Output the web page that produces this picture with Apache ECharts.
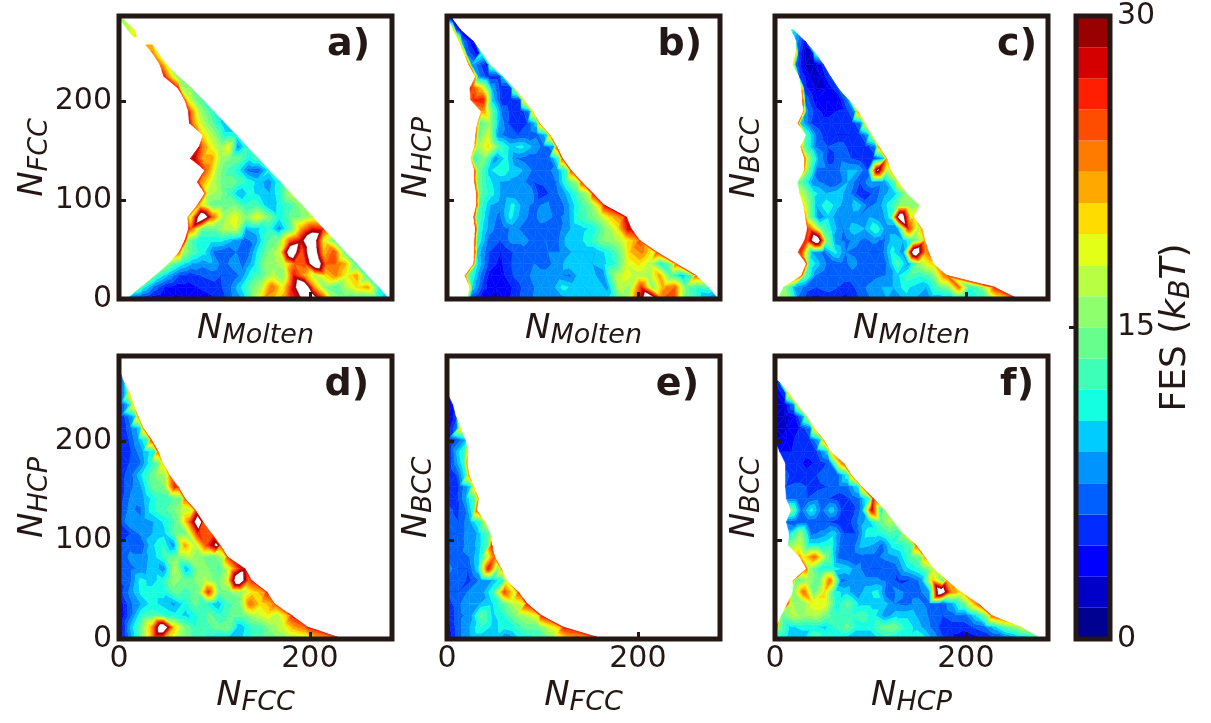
<!DOCTYPE html>
<html><head><meta charset="utf-8">
<style>html,body{margin:0;padding:0;background:#fff}#c{width:1211px;height:723px}</style>
<script src="https://cdn.jsdelivr.net/npm/echarts@6/dist/echarts.min.js"></script></head>
<body><div id="c"></div>
<script>
const _ = null, H = 37; // H: beyond the 30 colour limit, so it leaves an unfilled hole with a hot rim
const axisMax = 286, rowStep = 284 / 24, rimWidth = 3;
const levels = [0,1.5,3,4.5,6,7.5,9,10.5,12,13.5,15,16.5,18,19.5,21,22.5,24,25.5,27,28.5,30];
const levelColors = ['#000091','#0000c8','#0000ff','#002cff','#0060ff','#0094ff','#00ccff','#14ffe2','#3dffb8','#66ff8e','#8eff6d','#b8ff43','#e3ff17','#ffdc00','#ffa800','#ff7b00','#ff4d00','#ff1e00','#d40000','#990000'];
// each row: [row index, left end of sampled range, right end, FES on left rim, FES on right rim, FES values...]
const panelA = [
[24,0,3,_,_,15,16],[23,9,16,_,_,17,19],[22.4,15,18.5,_,_,19,20],[22,20,28,_,_,_,_],[21.7,28,35,_,_,21,21],[21,35,41,_,_,23,18],
[20,43,50,_,_,24,19],[19,47,62,27,_,24,19,15],[18,62,76,26,_,17,15],[17,69,88,24,_,19,15,13],[16,73,99.5,27,_,23,17,14,12],
[15,74,111,27,_,23,18,15,12,9],[14,88,123,_,_,20,16,11,11],[13,84,134,27,_,24,19,16,19,8,12],[12,75,146,27,_,29,22,22,16,15,14,11,13],
[11,90,157,25,_,23,16,13,11,7,6.5,11],[10,82,169,27,_,23,18,14,14,12,10,8,12],[9,90,180,24,_,17,16,13,9,11,10,9,12,17],
[8,82,192,24,_,20,14,14,15,12,13,9,11,13,16],[7,72,203,22,_,18,H,24,16,19,15,19,15,11,14,15,17],
[6,73,214,26,_,24,14,14,17,18,9,10,12,8,13,22,27,26],[5,69,226,27,_,15,11,11,11,9,7,8,13,15,24,28,H,19,14],
[4,63,237,24,_,17,13,11,7,6,7.5,6.5,11,15,18,H,24,H,21,25,14],[3,52,249,16,_,14,11,9,8,9,6.5,8.5,7,10,15,16,18,24,25,H,24,24,21,13],
[2,38,260,14,_,12,9,6,5,6,6.5,6,6,8,12,14,17,15,27,22,17,20,23,19,22,13],
[1,23,272,14,_,11,7,4.5,3.8,4,4.5,5,5.5,7,10,14,17,24,19,28,H,22,15,13,17,20,22,12],
[0,8,283,10,_,6,5,3.5,3,2.5,2.8,3.5,4,5,7,9,16,22,20,24,28,H,27,17,14,13,12,11,9]];
const panelB = [
[24,1.4,5,_,_,3,2],[23,6.6,14,20,_,6,2.5],[22,13,27.5,20,_,8,3],[21,18,36,20,12,7,3.5],[20,23,45,24,14,9,4],[19,30,58,22,10,8,5,5],
[18,24,70,26,16,25,20,9,5,5],[17,25,80,24,20,26,27,10,5,5,6],[16,36,90,22,20,22,13,7,5.5,5,8],[15,32,97,22,22,13,16,9,6,5,6,10],
[14,30,108,24,22,14,18,8,6.5,6,6,7,10],[13,29,115,22,24,16,20,13,10,11,9,7,8],[12,25,121,20,25,12,15,8,11,7.5,6.5,6.5,6.5,13],
[11,29,130,24,25,15,10,12,10,9,7,7,8,14],[10,29,141,24,25,15,11,9,8.5,8,6,6.5,7.5,13,17],[9,31,153,25,26,14,11,8,7.5,9,5,6.5,9,13,18],
[8,31,165,25,27,13,9,8,11,8,7,8,6,8.5,12,15,22],[7,28,188,25,28,14,9,7,11,8,7,8.5,7,8,12,14,17,21,24],
[6,30,193,26,28,12,8,6.5,8,7,6.5,6,7,9,10,11,15,19,28],[5,29,202,25,25,12,7,6,8,8,7,7.5,7,10,10,12,15,16,19,22],
[4,29,220,25,25,10,6,4.5,6,7,7,7.5,7.5,9,9,9,11,14,21,23,18],[3,28,240,23,24,11,6,4,6,7,7.5,7,8,10,10.5,9,10,12,18,20,17,11,17],
[2,19,261,23,24,14,8,3.5,4,6,7,8,8,8,7,10,9.5,8,16,19,17,16,22,13,9,15],
[1,24,274,20,_,10,5,3,3.5,5.5,7,8,8,11,10,9,10,8.5,17,16,26,15,22,24,14,12,13],
[0,22,284,14,_,6,3,2.5,3.5,5.5,7,8,9,8,9,9.5,9,10,13,16,27,H,24,26,15,12,8,6]];
const panelC = [
[23,17,19,_,_,11,11],[22,23,31.5,_,_,8,4],[21,22,42,20,12,6,1.5,2.5],[20,19,51,20,_,7,2,2.5,5],[19,26,58,_,_,6,3,3,6],[18,28,66,22,_,5,2.8,3,6],
[17,29,77,25,_,7,3.5,3,3,8],[16,30,87,23,22,8,5,4,4.5,5,8],[15,24,94,24,18,10,6,5,5,5,5,8],[14,33,101,_,16,13,7,5,4.5,4.5,5,9],
[13,27,109,22,22,14,7.5,6,7,5,4.5,8],[12,31,117,24,22,17,9,5,7,6,5,4.5,9],[11,31,121,22,20,15,7,7,7,9,9,6,32,16],
[10,24,129,14,20,14,8,7,6,9,6,9,8,14],[9,26,138,18,_,17,11,9,10,8,4.5,6,8.5,10,16],[8,30,151,20,_,17,9,12,9.5,8,10,7,8,11,15,15,16],
[7,32,145,22,20,16,7.5,10,7.5,8,7.5,9,7.5,11,H,19],[6,34,154,26,22,24,14,10,7.5,10,9,12,8,8,26,16],[5,31,157,27,22,25,H,15,8,7,8,7,8,7,10,9,13,17],
[4,24,161,25,24,26,9,7,11,7.5,7,6,6,11,8,H,22],[3,33,166,24,20,12,9,6,7,8,6.5,7,7.5,13,8.5,16,20],[2,28,180,24,24,14,7.5,6,7,7,6,7,7.5,10,13,12,14,23],
[1,9,230,_,26,16,9,7,6,7,6,5,7,8,9,9,11,10,9,13,15,24,12,14,22],
[0,3,255,_,_,16,15,7,4,4,4.5,4,5,7,8,9,8,10,8.5,9,9,9,10,11,12,18,20,26]];
const panelD = [
[22.6,0,2,_,_,5,5],[22,0,4.5,_,_,3.5,8],[21,0,11,_,20,4,11],[20,0,15,_,20,4,11],[19,0,20,_,22,4,10],[18,0,25.5,_,22,4,7,10],[17,0,34,_,25,4.5,6,9,13],
[16,0,41,_,24,5,6,9,12],[15,0,46,_,20,5,6,7,11,15],[14,0,53,_,22,5,7,11,15,17],[13,0,62,_,25,5,7,9,14,15,27],[12,0,69,_,24,5,8,9,12,13,15],
[11,0,80,_,24,5,8,7,11,13,14,17,18],[10,0,88,_,25,6,9,8,9,11,14,23,H],[9,0,97,_,24,5,6,8,9,10,14,15,26,24],[8,0,106,_,24,6,7,6,10,12,8,22,17,25,32],
[7,0,114,_,25,6,8,8,10,13,15,17,15,14,18],[6,0,132,_,28,6,7,8,10,8,17,9,15,15,13,20,28],[5,0,139,_,26,6,7,11,10,11,16,14,15,17,14,18,H,24],
[4,0,155,_,26,5,8,11,11,11,14,13,14,26,14,15,16,20,22],[3,0,163,_,24,3,7,9,11,10,8.5,11,14,12,9,13,14,24,20,22],
[2,0,181,_,26,2.5,7,12,13,12,11,10,12,14,12,14,14,17,19,17,22],[1,0,198,_,26,2,9,14,22,H,21,15,12,13,14,15,9,12,13,16,18,22,24],
[0,0,235,_,27,2.5,8,14,22,22,18,15,13,11,10,9,10,12,13,14,15,16,17,21,22,24]];
const panelE = [
[20.8,0,1.4,_,_,2.5,3],[20,0,6,_,_,2.8,4],[19,0,9,_,_,3,5],[18,0,14,_,20,3,8],[17,0,19,_,_,3,9],[16,0,22,_,20,3.5,9,13],[15,0,21,_,22,4,8,12],
[14,0,23,_,22,4,6,12],[13,0,28,_,20,4,6,10],[12,0,33,_,22,5,5.5,9,14],[11,0,31,_,24,7,5.5,7,12],[10,0,40,_,18,7,6,9,13],[9,0,45,_,14,6,6,8,9,13],
[8,0,47,_,26,7,6.5,8,9.5,14],[7,0,50,_,24,7,7,7.5,11,22],[6,0,57,_,22,9,6,6,10,27,14],[5,0,62,_,18,7,7,5.5,8,9,12],[4,0,75,_,25,6,6,8,8,12,25,18],
[3,0,84,_,26,5,7,9,9,10,13,17,19],[2,0,99,_,26,4,7,8,14,10,12,15,17,20],[1,0,122,_,26,3.5,7,9,12,10,11,12,14,14,18,21],
[0,0,164,_,27,3,7,9,9,10,7,10,11,12,15,20,22,22,24]];
const panelF = [
[22.1,0,2,_,_,5,5],[22,0,3.5,_,_,3,6],[21,0,14,_,20,2.5,6],[20,0,23,_,18,2,3,8],[19,0,33,_,16,1.8,2.5,3.5,9],[18,0,41,_,20,2,3,4.5,8],[17,0,51,_,22,3,3.5,5,5.5,10],
[16,5,58,_,20,4.5,4.5,5,5.5,10],[15,11,72,_,24,5.5,5,4,5,6.5,22],[14,11,80,_,22,6.5,5,5,6,7,7,12],[13,11,91,_,22,6,6.5,6,5.5,6,7,7.5,11],
[12,12,103,_,26,7,7,6,7,6,5,6,7.5,14],[11,17,115,_,16,15,7,11,7,10,6,5,8,28,10],[10,12,124,_,16,7,6,6.5,6,6,5,5.5,8,10,14,17],
[9,15,134,_,16,10,16,7,8,10,6,6,11,11,13,12],[8,14,148,_,24,15,18,11,11,12,7,6,9.5,9,7,11,12,14],[7,26,157,22,22,19,24,15,7,6,7,7,8,9,13,15],
[6,33,166,24,18,16,11,11,10,8,6,6,6.5,10,12,16],[5,19,180,22,22,13,16,14,24,7,8,8,8,7,5.5,6,8,21,13],
[4,19,195,_,_,15,24,14,20,11,10,7.5,10,11,6,8,7,7,9,H,23,20],[3,13,213,25,24,17,15,19,19,11,14,10,10,10,7.5,7,8,7,6,9,14,22],
[2,7,227,_,24,14,17,16,17,14,12,12,13,11,8,10,10,8.5,7,6,7,7,11,17],[1,1,258,26,18,15,10,11,11,10,12,14,11,11,14,15,12,10,8,6,5,5,6,7,10,14,16],
[0,0,279,24,12,11,9,9,14,12,10,9,9,9,11,10,11,12,9,6,4,3,4,5,5.5,7,8,10]];
const panelLabels = ['a)','b)','c)','d)','e)','f)'];
const xNames = [['N','Molten'],['N','Molten'],['N','Molten'],['N','FCC'],['N','FCC'],['N','HCP']];
const yNames = [['N','FCC'],['N','HCP'],['N','BCC'],['N','HCP'],['N','BCC'],['N','BCC']];
const xTicks = [0,200], yTicks = [0,100,200];
const barTicks = [0,15,30];
const panels = [panelA,panelB,panelC,panelD,panelE,panelF];

const ink = '#231815', font = 'DejaVu Sans';
const lefts = [119,447,775,119,447,775], tops = [16,16,16,356,356,356];
const labelRights = [841,509,174,842,512,177];
const labelTops = [26,26,26,366,366,366];

function rowVerts(r){
  const y=r[0]*rowStep, xL=r[1], xR=r[2], rimL=r[3], rimR=r[4], vals=r.slice(5);
  const a=xL+(rimL!==null?rimWidth:0), b=xR-(rimR!==null?rimWidth:0), n=vals.length, out=[];
  if (rimL!==null) out.push([xL,y,rimL]);
  vals.forEach((v,k)=>out.push([n>1?a+(b-a)*k/(n-1):(a+b)/2,y,v]));
  if (rimR!==null) out.push([xR,y,rimR]);
  return out;
}
function trianglesOf(rows){
  const out=[];
  for (let t=0;t+1<rows.length;t++){
    const A=rowVerts(rows[t]), B=rowVerts(rows[t+1]);
    let i=0,k=0;
    while (i<A.length-1 || k<B.length-1){
      let p;
      const advA = k===B.length-1 || (i<A.length-1 && A[i+1][0]<=B[k+1][0]);
      if (advA){ p=A[i+1]; } else { p=B[k+1]; }
      const tri=[A[i],B[k],p];
      if (tri.every(q=>q[2]!==null)) out.push(tri.flat());
      if (advA) i++; else k++;
    }
  }
  return out;
}
function clipAt(poly, level, keepAbove){
  const res=[];
  for (let k=0;k<poly.length;k++){
    const p=poly[k], q=poly[(k+1)%poly.length];
    const pin = keepAbove ? p[2]>=level : p[2]<=level;
    const qin = keepAbove ? q[2]>=level : q[2]<=level;
    if (pin) res.push(p);
    if (pin!==qin){
      const t=(level-p[2])/(q[2]-p[2]);
      res.push([p[0]+t*(q[0]-p[0]), p[1]+t*(q[1]-p[1]), level]);
    }
  }
  return res;
}
function renderTri(params, api){
  const t=[0,1,2].map(k=>[api.value(3*k),api.value(3*k+1),api.value(3*k+2)]);
  const children=[];
  for (let b=0;b<levelColors.length;b++){
    let poly=clipAt(t,levels[b],true);
    if (poly.length<3) continue;
    poly=clipAt(poly,levels[b+1],false);
    if (poly.length<3) continue;
    children.push({type:'polygon',silent:true,shape:{points:poly.map(p=>api.coord([p[0],p[1]]))},
      style:{fill:levelColors[b],stroke:levelColors[b],lineWidth:0.5}});
  }
  return {type:'group',children};
}
function renderBand(params, api){
  const p0=api.coord([0,api.value(0)]), p1=api.coord([1,api.value(1)]);
  return {type:'rect',silent:true,shape:{x:p0[0],y:p1[1],width:p1[0]-p0[0],height:p0[1]-p1[1]},
    style:{fill:levelColors[api.value(2)]}};
}
const rich = {
  n:{fontFamily:font,fontSize:34,fontStyle:'italic',color:ink,lineHeight:40},
  s:{fontFamily:font,fontSize:27,fontStyle:'italic',color:ink,lineHeight:26,verticalAlign:'bottom',padding:[10,0,0,0]},
  t:{fontFamily:font,fontSize:36,color:ink,lineHeight:40},
  i:{fontFamily:font,fontSize:36,fontStyle:'italic',color:ink,lineHeight:40},
  b:{fontFamily:font,fontSize:28,fontStyle:'italic',color:ink,lineHeight:26,verticalAlign:'bottom',padding:[10,0,0,0]}
};
const grid=[], xAxis=[], yAxis=[], series=[], title=[];
panels.forEach((rows,p)=>{
  grid.push({left:lefts[p],top:tops[p],width:273,height:283,show:true,z:3,backgroundColor:'transparent',borderColor:ink,borderWidth:5});
  const bottomRow=p>=3, firstCol=p%3===0;
  xAxis.push({gridIndex:p,type:'value',min:0,max:axisMax,z:5,splitLine:{show:false},axisLine:{show:false},
    axisTick:{show:true,inside:true,length:7,lineStyle:{color:ink,width:3},customValues:xTicks},
    axisLabel:{show:bottomRow,margin:5,fontFamily:font,fontSize:30,color:ink,customValues:xTicks,showMinLabel:true,showMaxLabel:true,hideOverlap:false},
    name:`{n|${xNames[p][0]}}{s|${xNames[p][1]}}`,nameLocation:'middle',nameGap:bottomRow?37:10,nameMoveOverlap:false,nameTextStyle:{rich}});
  yAxis.push({gridIndex:p,type:'value',min:0,max:axisMax,z:5,splitLine:{show:false},axisLine:{show:false},
    axisTick:{show:true,inside:true,length:7,lineStyle:{color:ink,width:3},customValues:yTicks},
    axisLabel:{show:firstCol,margin:7,fontFamily:font,fontSize:30,color:ink,customValues:yTicks,showMinLabel:true,showMaxLabel:true,hideOverlap:false},
    name:`{n|${yNames[p][0]}}{s|${yNames[p][1]}}`,nameLocation:'middle',nameGap:firstCol?66:10,nameRotate:90,nameMoveOverlap:false,nameTextStyle:{rich}});
  series.push({type:'custom',xAxisIndex:p,yAxisIndex:p,z:1,silent:true,animation:false,progressive:0,
    renderItem:renderTri,data:trianglesOf(rows),
    dimensions:['x0','y0','v0','x1','y1','v1','x2','y2','v2'],encode:{x:[0,3,6],y:[1,4,7]}});
  title.push({text:panelLabels[p],right:labelRights[p],top:labelTops[p],padding:0,textStyle:{fontFamily:font,fontWeight:'bold',fontSize:38,color:ink}});
});
// colour bar
grid.push({left:1076,top:16,width:34,height:623,show:true,z:3,backgroundColor:'transparent',borderColor:ink,borderWidth:5});
xAxis.push({gridIndex:6,type:'value',min:0,max:1,show:false});
yAxis.push({gridIndex:6,type:'value',position:'right',min:0,max:30,z:5,splitLine:{show:false},axisLine:{show:false},
  axisTick:{show:true,inside:true,length:7,lineStyle:{color:ink,width:3},customValues:[15]},
  axisLabel:{margin:7,fontFamily:font,fontSize:30,color:ink,customValues:barTicks,showMinLabel:true,showMaxLabel:true,hideOverlap:false},
  name:'{t|FES (}{i|k}{b|B}{i|T}{t|)}',nameLocation:'middle',nameGap:46,nameRotate:90,nameMoveOverlap:false,nameTextStyle:{rich}});
series.push({type:'custom',xAxisIndex:6,yAxisIndex:6,z:1,silent:true,animation:false,renderItem:renderBand,
  data:levelColors.map((c,k)=>[levels[k],levels[k+1],k]),dimensions:['lo','hi','k'],encode:{y:[0,1]}});

const chart=echarts.init(document.getElementById('c'),null,{renderer:'canvas',width:1211,height:723});
chart.setOption({animation:false,backgroundColor:'#fff',tooltip:{show:false},title,grid,xAxis,yAxis,series});
</script></body></html>
